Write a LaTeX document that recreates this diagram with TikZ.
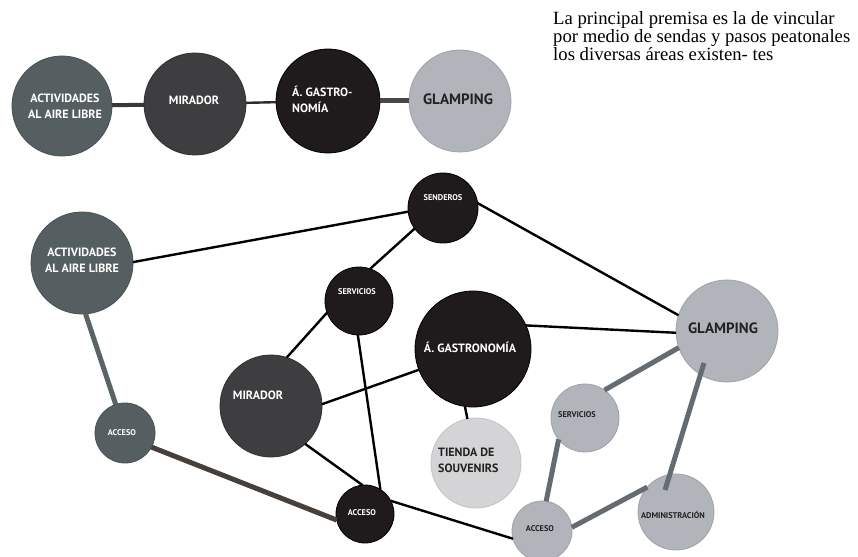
\documentclass[tikz,border=0pt]{standalone}
\usepackage{fontspec}
\setmainfont{Liberation Serif}
\newfontfamily\lab{PT Sans}
\usetikzlibrary{calc}
\definecolor{cslate}{HTML}{555F61}
\definecolor{cdark}{HTML}{3E3D3F}
\definecolor{cblack}{HTML}{1F1B1C}
\definecolor{cgrey}{HTML}{B1B5BB}
\definecolor{clight}{HTML}{D4D4D6}
\definecolor{lslate}{HTML}{5A6366}
\definecolor{lbrown}{HTML}{45403C}
\definecolor{lgrey}{HTML}{656C71}
\definecolor{ltop}{HTML}{3B3734}
\definecolor{ltoptwo}{HTML}{4A4643}
\definecolor{ctxt}{HTML}{222222}
\tikzset{
  bub/.style={circle, inner sep=0pt, outer sep=0pt, minimum size=#1},
  fslate/.style={fill=cslate, draw=cslate!85!black, line width=0.8pt},
  fdark/.style={fill=cdark, draw=cdark!80!black, line width=0.8pt},
  fblack/.style={fill=cblack, draw=black, line width=0.8pt},
  fgrey/.style={fill=cgrey, draw=cgrey!90!black, line width=0.8pt},
  flight/.style={fill=clight, draw=clight!92!black, line width=0.8pt},
  wtxt/.style={text=white, inner sep=0pt, align=center},
  dtxt/.style={text=ctxt, inner sep=0pt, align=center},
  big/.style={font=\lab\bfseries\fontsize{12}{16}\selectfont},
  huge/.style={font=\lab\bfseries\fontsize{15}{18}\selectfont},
  tiny/.style={font=\lab\bfseries\fontsize{8.3}{10}\selectfont},
  blk/.style={draw=black, line width=2.4pt},
  thk/.style={line width=5pt}
}
\begin{document}
\begin{tikzpicture}[x=1pt,y=-1pt]
\useasboundingbox[fill=white] (0,0) rectangle (858,556);

% paragraph
\node[anchor=north west, inner sep=0pt, align=left, font=\fontsize{18.7}{18.3}\selectfont] (para) at (553,11)
 {La principal premisa es la de vincular\\por medio de sendas y pasos peatonales\\los diversas áreas existen- tes};

% ---------- top row ----------
\node[bub=100pt, fslate] (act1) at (62,106) {};
\node[bub=102pt, fdark]  (mir1) at (195,104) {};
\node[bub=104pt, fblack] (gas1) at (328,101) {};
\node[bub=102pt, fgrey]  (gla1) at (460,101) {};
\draw[ltop, line width=4pt] (act1) -- (mir1);
\draw[ltop!80!black, line width=2.4pt] (mir1) -- (gas1);
\draw[ltoptwo, line width=5pt] (gas1) -- (gla1);
\node[wtxt, big] (tact1) at (65,106) {ACTIVIDADES\\AL AIRE LIBRE};
\node[wtxt, big] (tmir1) at (194,100) {MIRADOR};
\node[wtxt, big, align=left, anchor=west] (tgas1) at (292,99) {Á. GASTRO-\\NOMÍA};
\node[dtxt, huge] (tgla1) at (458,99) {GLAMPING};

% ---------- lower graph ----------
\node[bub=102pt, fslate] (act2) at (82,263) {};
\node[bub=70pt,  fblack] (sen)  at (443,208) {};
\node[bub=68pt,  fblack] (serv1) at (359,301) {};
\node[bub=116pt, fblack] (gas2) at (473,349) {};
\node[bub=102pt, fgrey]  (glam2) at (727,331) {};
\node[bub=90pt,  flight] (tie)  at (476,463) {};
\node[bub=68pt,  fgrey]  (serv2) at (585,418) {};
\node[bub=76pt,  fgrey]  (adm)  at (676,512) {};
\node[bub=60pt,  fgrey]  (acc3) at (542,531) {};
\node[bub=102pt, fdark]  (mir2) at (271,406) {};
\node[bub=60pt,  fslate] (acc1) at (125,433) {};
\node[bub=58pt,  fblack] (acc2) at (365,514) {};

% black connectors
\draw[blk] (act2.1) -- (sen.186);
\draw[blk] (sen.216) -- (serv1.71);
\draw[blk] (sen.8) -- (glam2.162);
\draw[blk] (serv1.200) -- (mir2.72);
\draw[blk] (serv1.268) -- (acc2.58);
\draw[blk] (mir2.2) -- (gas2.201);
\draw[blk] (mir2.-48) -- (acc2.95);
\draw[blk] (gas2.24) -- (glam2.182);
\draw[blk] (gas2.262) -- (tie.101);
\draw[blk] (acc2.27) -- (acc3.195);
% thick connectors
\draw[thk, lslate] (act2.274) -- (acc1.108);
\draw[thk, lbrown] (acc1.-28) -- (acc2.192);
\draw[thk, lgrey] (glam2.199) -- (serv2.55);
\draw[thk, lgrey] (serv2.219) -- (acc3.82);
\draw[thk, lgrey] (acc3.7) -- (adm.139);
\coordinate (ga) at ($(glam2.center)+(-23,32)$);
\coordinate (gb) at ($(adm.center)+(-11,-22)$);
\draw[thk, lgrey] (ga) -- (gb);

% labels
\node[wtxt, big] (tact2) at (82,260) {ACTIVIDADES\\AL AIRE LIBRE};
\node[wtxt, tiny] (tsen) at (443,198) {SENDEROS};
\node[wtxt, tiny] (tserv1) at (357,292) {SERVICIOS};
\node[wtxt, big] (tgas2) at (470,347) {Á. GASTRONOMÍA};
\node[dtxt, huge] (tglam2) at (723,328) {GLAMPING};
\node[dtxt, big, align=left, anchor=west] (ttie) at (438,460) {TIENDA DE\\SOUVENIRS};
\node[dtxt, tiny] (tserv2) at (577,415) {SERVICIOS};
\node[dtxt, tiny] (tadm) at (673,515) {ADMINISTRACIÓN};
\node[dtxt, tiny] (tacc3) at (540,529) {ACCESO};
\node[wtxt, big] (tmir2) at (258,395) {MIRADOR};
\node[wtxt, tiny] (tacc1) at (122,433) {ACCESO};
\node[wtxt, tiny] (tacc2) at (362,513) {ACCESO};
\end{tikzpicture}
\end{document}
